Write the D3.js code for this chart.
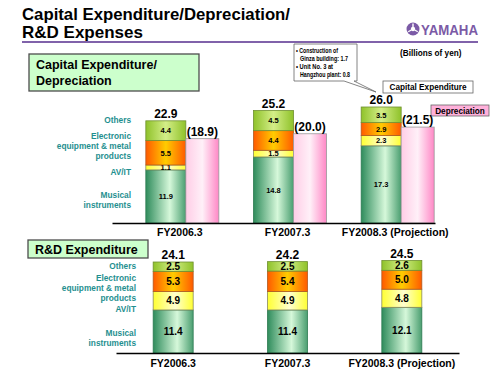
<!DOCTYPE html>
<html>
<head>
<meta charset="utf-8">
<script src="https://cdn.jsdelivr.net/npm/d3@7"></script>
<style>
  body { margin: 0; background: #fff; }
  svg { display: block; font-family: "Liberation Sans", Arial, sans-serif; }
</style>
</head>
<body>
<svg id="chart" width="500" height="375"></svg>
<script>
// ---- data (billions of yen) ----
const years = ["FY2006.3", "FY2007.3", "FY2008.3 (Projection)"];
const segmentKeys = ["musical", "avit", "elec", "others"];

const capexMusical = [11.9, 14.8, 17.3];
const capexAvit = [1.1, 1.5, 2.3];
const capexElec = [5.5, 4.4, 2.9];
const capexOthers = [4.4, 4.5, 3.5];
const capexTotal = [22.9, 25.2, 26.0];
const depreciation = [18.9, 20.0, 21.5];

const rdMusical = [11.4, 11.4, 12.1];
const rdAvit = [4.9, 4.9, 4.8];
const rdElec = [5.3, 5.4, 5.0];
const rdOthers = [2.5, 2.5, 2.6];
const rdTotal = [24.1, 24.2, 24.5];

const capexRows = years.map((y, i) => ({
  year: y, musical: capexMusical[i], avit: capexAvit[i], elec: capexElec[i],
  others: capexOthers[i], total: capexTotal[i], dep: depreciation[i]
}));
const rdRows = years.map((y, i) => ({
  year: y, musical: rdMusical[i], avit: rdAvit[i], elec: rdElec[i],
  others: rdOthers[i], total: rdTotal[i]
}));

const svg = d3.select("#chart");
const defs = svg.append("defs");

// horizontal shaded fills like the original slide
function addGrad(id, stops) {
  const g = defs.append("linearGradient").attr("id", id)
    .attr("x1", "0%").attr("x2", "100%").attr("y1", "0%").attr("y2", "0%");
  stops.forEach(s => g.append("stop").attr("offset", s[0]).attr("stop-color", s[1]));
}
addGrad("g-musical", [[0, "#2f8c5c"], [0.6, "#d6f8da"], [1, "#4a9e70"]]);
addGrad("g-avit", [[0, "#ffff33"], [0.55, "#ffffd0"], [1, "#ffff33"]]);
addGrad("g-elec", [[0, "#ff5a00"], [0.5, "#ffcc00"], [1, "#ff5a00"]]);
addGrad("g-others", [[0, "#8fc22a"], [0.5, "#d4ee88"], [1, "#8fc22a"]]);
addGrad("g-dep", [[0, "#ffcde6"], [0.5, "#fff0f8"], [1, "#ff88c6"]]);

const strokeFor = { musical: "#2e7a52", avit: "#8a8a60", elec: "#b05a20", others: "#6f8f30" };
const teal = "#1f8f8f";

// ---- title ----
svg.append("text").attr("x", 22).attr("y", 20)
  .attr("font-size", 17).attr("font-weight", "bold").attr("fill", "#000")
  .attr("textLength", 268).attr("lengthAdjust", "spacingAndGlyphs")
  .text("Capital Expenditure/Depreciation/");
svg.append("text").attr("x", 22).attr("y", 38)
  .attr("font-size", 17).attr("font-weight", "bold").attr("fill", "#000")
  .text("R&D Expenses");
svg.append("line").attr("x1", 22).attr("x2", 478).attr("y1", 42).attr("y2", 42)
  .attr("stroke", "#8062aa").attr("stroke-width", 2);

// YAMAHA mark
const logo = svg.append("g").attr("transform", "translate(413,29)");
logo.append("circle").attr("r", 6.5).attr("fill", "#7b5aa6");
logo.append("circle").attr("r", 2.2).attr("fill", "#fff");
[0, 120, 240].forEach(a => {
  logo.append("line").attr("x1", 0).attr("y1", -2).attr("x2", 0).attr("y2", -5.5)
    .attr("stroke", "#fff").attr("stroke-width", 1.4)
    .attr("transform", `rotate(${a})`);
});
svg.append("text").attr("x", 421).attr("y", 35)
  .attr("font-size", 15).attr("font-weight", "bold").attr("fill", "#7b5aa6")
  .attr("textLength", 57).attr("lengthAdjust", "spacingAndGlyphs")
  .text("YAMAHA");

// ---- captions and boxes ----
function headBox(x, y, w, h, lines, lineY) {
  svg.append("rect").attr("x", x).attr("y", y).attr("width", w).attr("height", h)
    .attr("fill", "#ccffcc").attr("stroke", "#4d4d4d").attr("stroke-width", 1.3);
  lines.forEach((t, i) => {
    svg.append("text").attr("x", x + 7).attr("y", lineY[i])
      .attr("font-size", 12.5).attr("font-weight", "bold").text(t);
  });
}
headBox(29, 54, 170, 37, ["Capital Expenditure/", "Depreciation"], [69, 85]);
headBox(28, 240, 120, 18, ["R&D Expenditure"], [254]);

svg.append("text").attr("x", 400).attr("y", 56)
  .attr("font-size", 8.2).attr("font-weight", "bold").text("(Billions of yen)");

// callout
const callout = svg.append("g");
callout.append("path")
  .attr("d", "M294,44 H357 V81 H354 L376,92 L344,81 H294 Z")
  .attr("fill", "#fff").attr("stroke", "#666").attr("stroke-width", 0.8);
[["\u2022 Construction of", 296, 52.5, 42], ["Ginza building: 1.7", 300, 60.5, 48],
 ["\u2022 Unit No. 3 at", 296, 68.5, 37], ["Hangzhou plant: 0.8", 300, 76.5, 50]].forEach(d => {
  callout.append("text").attr("x", d[1]).attr("y", d[2])
    .attr("font-size", 6.8).attr("font-weight", "bold")
    .attr("textLength", d[3]).attr("lengthAdjust", "spacingAndGlyphs").text(d[0]);
});

svg.append("rect").attr("x", 383).attr("y", 81).attr("width", 90).attr("height", 12)
  .attr("fill", "#fff").attr("stroke", "#666").attr("stroke-width", 0.8);
svg.append("text").attr("x", 428).attr("y", 90.3).attr("text-anchor", "middle")
  .attr("font-size", 8.2).attr("font-weight", "bold").text("Capital Expenditure");
svg.append("rect").attr("x", 431).attr("y", 105).attr("width", 58).attr("height", 11)
  .attr("fill", "#ffb0da").attr("stroke", "#666").attr("stroke-width", 0.8);
svg.append("text").attr("x", 460).attr("y", 113.7).attr("text-anchor", "middle")
  .attr("font-size", 8.2).attr("font-weight", "bold").text("Depreciation");

// segment legends on the left (teal)
function sideLabels(rightX, items) {
  items.forEach(d => {
    svg.append("text").attr("x", rightX).attr("y", d[1]).attr("text-anchor", "end")
      .attr("font-size", 8.3).attr("font-weight", "bold").attr("fill", teal).text(d[0]);
  });
}
sideLabels(131, [["Others", 123], ["Electronic", 139], ["equipment & metal", 149],
  ["products", 159], ["AV/IT", 175], ["Musical", 198], ["instruments", 208]]);
sideLabels(136, [["Others", 269], ["Electronic", 281], ["equipment & metal", 291],
  ["products", 301], ["AV/IT", 312], ["Musical", 336], ["instruments", 346]]);

const stack = d3.stack().keys(segmentKeys);

// ---- capital expenditure / depreciation ----
const xTop = d3.scaleBand().domain(years).range([112, 435]);
const yTop = d3.scaleLinear().domain([0, 26]).range([223, 107]);
const capW = 40, depW = 33;
const gTop = svg.append("g");

stack(capexRows).forEach(layer => {
  gTop.append("g").selectAll("rect").data(layer).join("rect")
    .attr("x", d => xTop(d.data.year) + xTop.bandwidth() / 2 - capW / 2)
    .attr("y", d => yTop(d[1]))
    .attr("width", capW)
    .attr("height", d => yTop(d[0]) - yTop(d[1]))
    .attr("fill", `url(#g-${layer.key})`)
    .attr("stroke", strokeFor[layer.key]).attr("stroke-width", 0.8);
  gTop.append("g").selectAll("text").data(layer).join("text")
    .attr("x", d => xTop(d.data.year) + xTop.bandwidth() / 2)
    .attr("y", d => (yTop(d[0]) + yTop(d[1])) / 2 + 2.8)
    .attr("text-anchor", "middle").attr("font-size", 7.5).attr("font-weight", "bold")
    .text(d => d.data[layer.key].toFixed(1));
});

gTop.selectAll(".dep").data(capexRows).join("rect").attr("class", "dep")
  .attr("x", d => xTop(d.year) + xTop.bandwidth() / 2 + capW / 2)
  .attr("y", d => yTop(d.dep))
  .attr("width", depW)
  .attr("height", d => yTop(0) - yTop(d.dep))
  .attr("fill", "url(#g-dep)").attr("stroke", "#999").attr("stroke-width", 0.8);

gTop.selectAll(".tot").data(capexRows).join("text").attr("class", "tot")
  .attr("x", d => xTop(d.year) + xTop.bandwidth() / 2)
  .attr("y", d => yTop(d.total) - 3)
  .attr("text-anchor", "middle").attr("font-size", 12).attr("font-weight", "bold")
  .text(d => d.total.toFixed(1));
gTop.selectAll(".deplab").data(capexRows).join("text").attr("class", "deplab")
  .attr("x", d => xTop(d.year) + xTop.bandwidth() / 2 + capW / 2 + depW / 2)
  .attr("y", d => yTop(d.dep) - 3)
  .attr("text-anchor", "middle").attr("font-size", 12).attr("font-weight", "bold")
  .text(d => "(" + d.dep.toFixed(1) + ")");

const axTop = svg.append("g").attr("transform", `translate(0,${yTop(0)})`)
  .call(d3.axisBottom(xTop).tickSize(0).tickSizeOuter(0).tickPadding(5.5));
axTop.select(".domain").attr("stroke", "#000").attr("stroke-width", 1.5);
axTop.selectAll("text").attr("font-size", 10.5).attr("font-weight", "bold")
  .attr("font-family", "Liberation Sans, Arial, sans-serif").attr("fill", "#000")
  .attr("dx", 14);

// ---- R&D expenditure ----
const xBot = d3.scaleBand().domain(years).range([116, 459]);
const yBot = d3.scaleLinear().domain([0, 24.5]).range([353, 260.5]);
const rdW = 40;
const gBot = svg.append("g");

stack(rdRows).forEach(layer => {
  gBot.append("g").selectAll("rect").data(layer).join("rect")
    .attr("x", d => xBot(d.data.year) + xBot.bandwidth() / 2 - rdW / 2)
    .attr("y", d => yBot(d[1]))
    .attr("width", rdW)
    .attr("height", d => yBot(d[0]) - yBot(d[1]))
    .attr("fill", `url(#g-${layer.key})`)
    .attr("stroke", strokeFor[layer.key]).attr("stroke-width", 0.8);
  gBot.append("g").selectAll("text").data(layer).join("text")
    .attr("x", d => xBot(d.data.year) + xBot.bandwidth() / 2)
    .attr("y", d => (yBot(d[0]) + yBot(d[1])) / 2 + 3.6)
    .attr("text-anchor", "middle").attr("font-size", 10).attr("font-weight", "bold")
    .text(d => d.data[layer.key].toFixed(1));
});

gBot.selectAll(".tot").data(rdRows).join("text").attr("class", "tot")
  .attr("x", d => xBot(d.year) + xBot.bandwidth() / 2)
  .attr("y", d => yBot(d.total) - 3)
  .attr("text-anchor", "middle").attr("font-size", 12).attr("font-weight", "bold")
  .text(d => d.total.toFixed(1));

const axBot = svg.append("g").attr("transform", `translate(0,${yBot(0)})`)
  .call(d3.axisBottom(xBot).tickSize(0).tickSizeOuter(0).tickPadding(6.5));
axBot.select(".domain").attr("stroke", "#000").attr("stroke-width", 1.5);
axBot.selectAll("text").attr("font-size", 10.5).attr("font-weight", "bold")
  .attr("font-family", "Liberation Sans, Arial, sans-serif").attr("fill", "#000");
</script>
</body>
</html>
